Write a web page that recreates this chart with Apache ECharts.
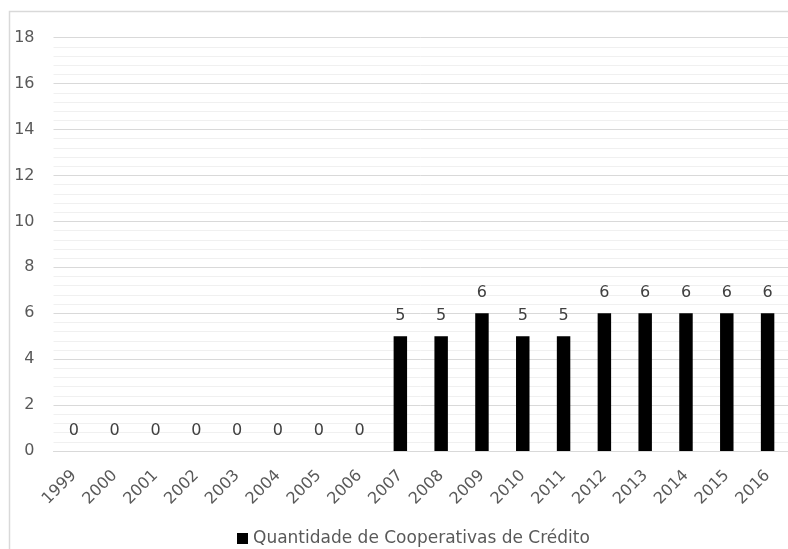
<!DOCTYPE html>
<html>
<head>
<meta charset="utf-8">
<script src="https://cdn.jsdelivr.net/npm/echarts@6/dist/echarts.min.js"></script>
<style>
  html, body { margin: 0; padding: 0; background: #fff; }
  #chart { width: 788px; height: 549px; }
</style>
</head>
<body>
<div id="chart"></div>
<script>
// Years on the category axis
const years = ['1999','2000','2001','2002','2003','2004','2005','2006','2007',
               '2008','2009','2010','2011','2012','2013','2014','2015','2016'];
// Number of credit cooperatives per year
const cooperativas = [0,0,0,0,0,0,0,0,5,5,6,5,5,6,6,6,6,6];
const seriesName = 'Quantidade de Cooperativas de Crédito';
// Value axis
const yMin = 0, yMax = 18, yStep = 2;

const font = '"DejaVu Sans", Verdana, sans-serif';
const chart = echarts.init(document.getElementById('chart'), null, { renderer: 'canvas' });

chart.setOption({
  animation: false,
  backgroundColor: '#ffffff',
  graphic: [{
    type: 'rect',
    shape: { x: 9.5, y: 11.5, width: 800, height: 560 },
    style: { fill: 'none', stroke: '#d9d9d9', lineWidth: 1.5 },
    silent: true, z: -1
  }],
  grid: { left: 53.5, top: 37.7, width: 738.6, height: 413.3, containLabel: false },
  legend: {
    data: [seriesName],
    left: 232, top: 525,
    icon: 'rect', itemWidth: 11, itemHeight: 11, itemGap: 6,
    textStyle: { fontFamily: font, fontSize: 17, color: '#595959' }
  },
  xAxis: {
    type: 'category',
    data: years,
    axisLine: { show: true, lineStyle: { color: '#d9d9d9', width: 1 } },
    axisTick: { show: false },
    axisLabel: { rotate: 45, margin: 22, fontFamily: font, fontSize: 16, color: '#595959' }
  },
  yAxis: {
    type: 'value',
    min: yMin, max: yMax, interval: yStep,
    axisLine: { show: false },
    axisTick: { show: false },
    axisLabel: { margin: 19, fontFamily: font, fontSize: 16, color: '#595959' },
    splitLine: { show: true, lineStyle: { color: '#d9d9d9', width: 1 } },
    minorTick: { show: false, splitNumber: 5 },
    minorSplitLine: { show: true, lineStyle: { color: '#f0f0f0', width: 1 } }
  },
  series: [{
    name: seriesName,
    type: 'bar',
    data: cooperativas,
    barWidth: '33%',
    itemStyle: { color: '#000000' },
    label: {
      show: true, position: 'top', distance: 12,
      fontFamily: font, fontSize: 16, color: '#404040'
    }
  }]
});
</script>
</body>
</html>
